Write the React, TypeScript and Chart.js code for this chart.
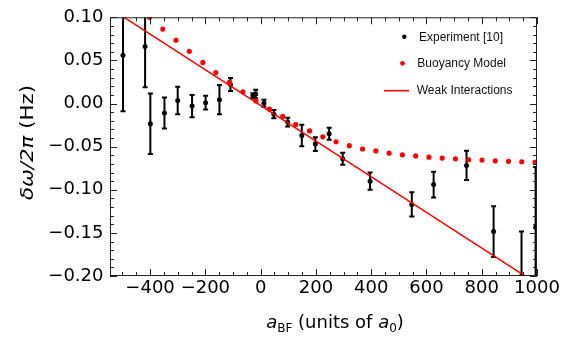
import React, { useEffect, useRef } from "react";
import { Chart, registerables } from "chart.js";

Chart.register(...registerables);

// Experiment [10]
const expX = [-498, -418, -399, -348, -300, -248, -199, -149, -109, -28, -18, 12, 48, 98, 149, 198, 248, 297, 396, 547, 626, 745, 843, 944, 995];
const expY = [0.056, 0.066, -0.0235, -0.011, 0.0035, -0.003, 0.001, 0.0045, 0.022, 0.009, 0.011, 0.0003, -0.0123, -0.0215, -0.037, -0.047, -0.035, -0.064, -0.09, -0.117, -0.094, -0.0718, -0.1485, -0.2, -0.1435];
const expErr = [0.065, 0.047, 0.035, 0.018, 0.016, 0.013, 0.008, 0.017, 0.0076, 0.003, 0.005, 0.004, 0.0047, 0.005, 0.0125, 0.008, 0.007, 0.007, 0.01, 0.014, 0.015, 0.017, 0.0295, 0.0515, 0.07];

// Buoyancy Model
const buoyX = [-402, -354, -306, -258, -209, -162, -113, -64, -17, 32, 80, 127, 177, 225, 273, 321, 369, 417, 465, 513, 561, 609, 657, 705, 753, 801, 849, 897, 945, 993];
const buoyY = [0.1, 0.0864, 0.0734, 0.0606, 0.0477, 0.036, 0.0245, 0.0136, 0.003, -0.0065, -0.015, -0.0243, -0.0318, -0.0386, -0.0443, -0.0489, -0.0527, -0.055, -0.0576, -0.0595, -0.0607, -0.0622, -0.0633, -0.0641, -0.0652, -0.0656, -0.0664, -0.067, -0.0675, -0.0682];

// Weak Interactions (straight line)
const weakX = [-545, 1000];
const weakY = [0.1105, -0.2089];

// Axes
const xMin = -545;
const xMax = 1000;
const yMin = -0.2;
const yMax = 0.1;
const xTicks = [-400, -200, 0, 200, 400, 600, 800, 1000];
const yTicks = [-0.2, -0.15, -0.1, -0.05, 0, 0.05, 0.1];
const xMinorStep = 50;
const yMinorStep = 0.01;

const legendLabels = ["Experiment [10]", "Buoyancy Model", "Weak Interactions"];

const RED = "#ff0000";
const BLACK = "#000000";
const TICK_FONT = "DejaVu Sans";

const fmtNum = (v: number, d: number) => {
  const r = Math.abs(v) < 1e-9 ? 0 : v;
  return (r < 0 ? "\u2212" : "") + Math.abs(r).toFixed(d);
};

type Run = { text: string; font: string; dy?: number };

function runsWidth(ctx: CanvasRenderingContext2D, runs: Run[]) {
  let w = 0;
  for (const r of runs) {
    ctx.font = r.font;
    w += ctx.measureText(r.text).width;
  }
  return w;
}

function drawRuns(ctx: CanvasRenderingContext2D, runs: Run[], x: number, y: number) {
  let cx = x;
  for (const r of runs) {
    ctx.font = r.font;
    ctx.fillText(r.text, cx, y + (r.dy || 0));
    cx += ctx.measureText(r.text).width;
  }
}

const framePlugin = {
  id: "framePlugin",
  beforeDatasetsDraw(chart: any) {
    const { ctx, chartArea: a, scales } = chart;
    const x = scales.x;
    const y = scales.y;
    ctx.save();
    ctx.beginPath();
    ctx.rect(a.left, a.top, a.right - a.left, a.bottom - a.top);
    ctx.clip();
    ctx.strokeStyle = BLACK;
    ctx.lineWidth = 2;
    const cap = 2.5;
    expX.forEach((xv, i) => {
      const px = x.getPixelForValue(xv);
      const top = y.getPixelForValue(expY[i] + expErr[i]);
      const bot = y.getPixelForValue(expY[i] - expErr[i]);
      ctx.beginPath();
      ctx.moveTo(px, top);
      ctx.lineTo(px, bot);
      ctx.moveTo(px - cap, top);
      ctx.lineTo(px + cap, top);
      ctx.moveTo(px - cap, bot);
      ctx.lineTo(px + cap, bot);
      ctx.stroke();
    });
    ctx.restore();
  },
  afterDraw(chart: any) {
    const { ctx, chartArea: a, scales } = chart;
    const x = scales.x;
    const y = scales.y;
    ctx.save();
    // frame
    ctx.strokeStyle = "#222";
    ctx.lineWidth = 1;
    ctx.strokeRect(a.left + 0.5, a.top + 0.5, a.right - a.left - 1, a.bottom - a.top - 1);

    // ticks
    const major = 7;
    const minor = 4;
    ctx.beginPath();
    const xMajorSet = new Set(xTicks.map((v) => Math.round(v)));
    for (let v = Math.ceil(xMin / xMinorStep) * xMinorStep; v <= xMax + 1e-9; v += xMinorStep) {
      const px = Math.round(x.getPixelForValue(v)) + 0.5;
      const len = xMajorSet.has(Math.round(v)) ? major : minor;
      ctx.moveTo(px, a.bottom);
      ctx.lineTo(px, a.bottom - len);
      ctx.moveTo(px, a.top);
      ctx.lineTo(px, a.top + len);
    }
    const yMajorSet = new Set(yTicks.map((v) => Math.round(v * 100)));
    for (let k = Math.round(yMin / yMinorStep); k <= Math.round(yMax / yMinorStep); k++) {
      const v = k * yMinorStep;
      const py = Math.round(y.getPixelForValue(v)) + 0.5;
      const len = yMajorSet.has(k) ? major : minor;
      ctx.moveTo(a.left, py);
      ctx.lineTo(a.left + len, py);
      ctx.moveTo(a.right, py);
      ctx.lineTo(a.right - len, py);
    }
    ctx.stroke();

    // legend
    ctx.fillStyle = BLACK;
    ctx.beginPath();
    ctx.arc(404.3, 36.7, 2.2, 0, Math.PI * 2);
    ctx.fill();
    ctx.fillStyle = RED;
    ctx.beginPath();
    ctx.arc(402.5, 63.3, 2.4, 0, Math.PI * 2);
    ctx.fill();
    ctx.strokeStyle = RED;
    ctx.lineWidth = 1.6;
    ctx.beginPath();
    ctx.moveTo(384, 90.7);
    ctx.lineTo(409, 90.7);
    ctx.stroke();
    ctx.fillStyle = "#111";
    ctx.font = '12px "Liberation Sans"';
    ctx.textAlign = "left";
    ctx.textBaseline = "alphabetic";
    ctx.fillText(legendLabels[0], 419, 40.9);
    ctx.fillText(legendLabels[1], 417.3, 67.3);
    ctx.fillText(legendLabels[2], 416.7, 93.8);

    // x title
    ctx.fillStyle = BLACK;
    const big = 18;
    const sub = 12;
    const xRuns: Run[] = [
      { text: "a", font: `italic ${big}px "${TICK_FONT}"` },
      { text: "BF", font: `${sub}px "${TICK_FONT}"`, dy: 4 },
      { text: " (units of ", font: `${big}px "${TICK_FONT}"` },
      { text: "a", font: `italic ${big}px "${TICK_FONT}"` },
      { text: "0", font: `${sub}px "${TICK_FONT}"`, dy: 4 },
      { text: ")", font: `${big}px "${TICK_FONT}"` },
    ];
    const xw = runsWidth(ctx, xRuns);
    drawRuns(ctx, xRuns, 335 - xw / 2, 327.5);

    // y title
    const yRuns: Run[] = [
      { text: "\u03B4\u03C9/2\u03C0", font: `italic ${big}px "${TICK_FONT}"` },
      { text: " (Hz)", font: `${big}px "${TICK_FONT}"` },
    ];
    const yw = runsWidth(ctx, yRuns);
    const targetLen = 115;
    ctx.translate(33, 142.5);
    ctx.rotate(-Math.PI / 2);
    ctx.scale(targetLen / yw, 1);
    drawRuns(ctx, yRuns, -yw / 2, 0);
    ctx.restore();
  },
};

export default function App() {
  const ref = useRef<HTMLCanvasElement>(null);
  useEffect(() => {
    const canvas = ref.current;
    if (!canvas) return;
    const chart = new Chart(canvas, {
      type: "scatter",
      data: {
        datasets: [
          {
            label: legendLabels[0],
            data: expX.map((v, i) => ({ x: v, y: expY[i] })),
            backgroundColor: BLACK,
            borderColor: BLACK,
            borderWidth: 0,
            pointRadius: 2.5,
            showLine: false,
            clip: 0,
            order: 3,
          },
          {
            label: legendLabels[1],
            data: buoyX.map((v, i) => ({ x: v, y: buoyY[i] })),
            backgroundColor: RED,
            borderColor: RED,
            borderWidth: 0,
            pointRadius: 2.6,
            showLine: false,
            clip: 0,
            order: 2,
          },
          {
            label: legendLabels[2],
            data: weakX.map((v, i) => ({ x: v, y: weakY[i] })),
            borderColor: RED,
            backgroundColor: RED,
            borderWidth: 1.5,
            pointRadius: 0,
            showLine: true,
            fill: false,
            clip: 0,
            order: 1,
          },
        ],
      },
      options: {
        responsive: false,
        maintainAspectRatio: false,
        animation: false,
        devicePixelRatio: 1,
        layout: { padding: { left: 0, top: 11, right: 44, bottom: 0 } },
        plugins: {
          legend: { display: false },
          tooltip: { enabled: false },
        },
        scales: {
          x: {
            type: "linear",
            position: "bottom",
            min: xMin,
            max: xMax,
            grid: { display: false, drawTicks: false, tickLength: 0 },
            border: { display: false },
            ticks: {
              color: BLACK,
              font: { family: TICK_FONT, size: 18 },
              padding: 1.5,
              autoSkip: false,
              maxRotation: 0,
              minRotation: 0,
              callback: (v: any) => fmtNum(Number(v), 0),
            },
            afterBuildTicks: (s: any) => {
              s.ticks = xTicks.map((v) => ({ value: v }));
            },
            afterFit: (s: any) => {
              s.height = 68;
            },
          },
          y: {
            type: "linear",
            position: "left",
            min: yMin,
            max: yMax,
            grid: { display: false, drawTicks: false, tickLength: 0 },
            border: { display: false },
            ticks: {
              color: BLACK,
              font: { family: TICK_FONT, size: 18 },
              padding: 6.5,
              autoSkip: false,
              callback: (v: any) => fmtNum(Number(v), 2),
            },
            afterBuildTicks: (s: any) => {
              s.ticks = yTicks.map((v) => ({ value: v }));
            },
            afterFit: (s: any) => {
              s.width = 110;
            },
          },
        },
      },
      plugins: [framePlugin],
    } as any);
    return () => chart.destroy();
  }, []);
  return (
    <div style={{ position: "fixed", left: 0, top: 0, width: 581, height: 344, background: "#fff" }}>
      <canvas ref={ref} width={581} height={344} style={{ display: "block" }} />
    </div>
  );
}
